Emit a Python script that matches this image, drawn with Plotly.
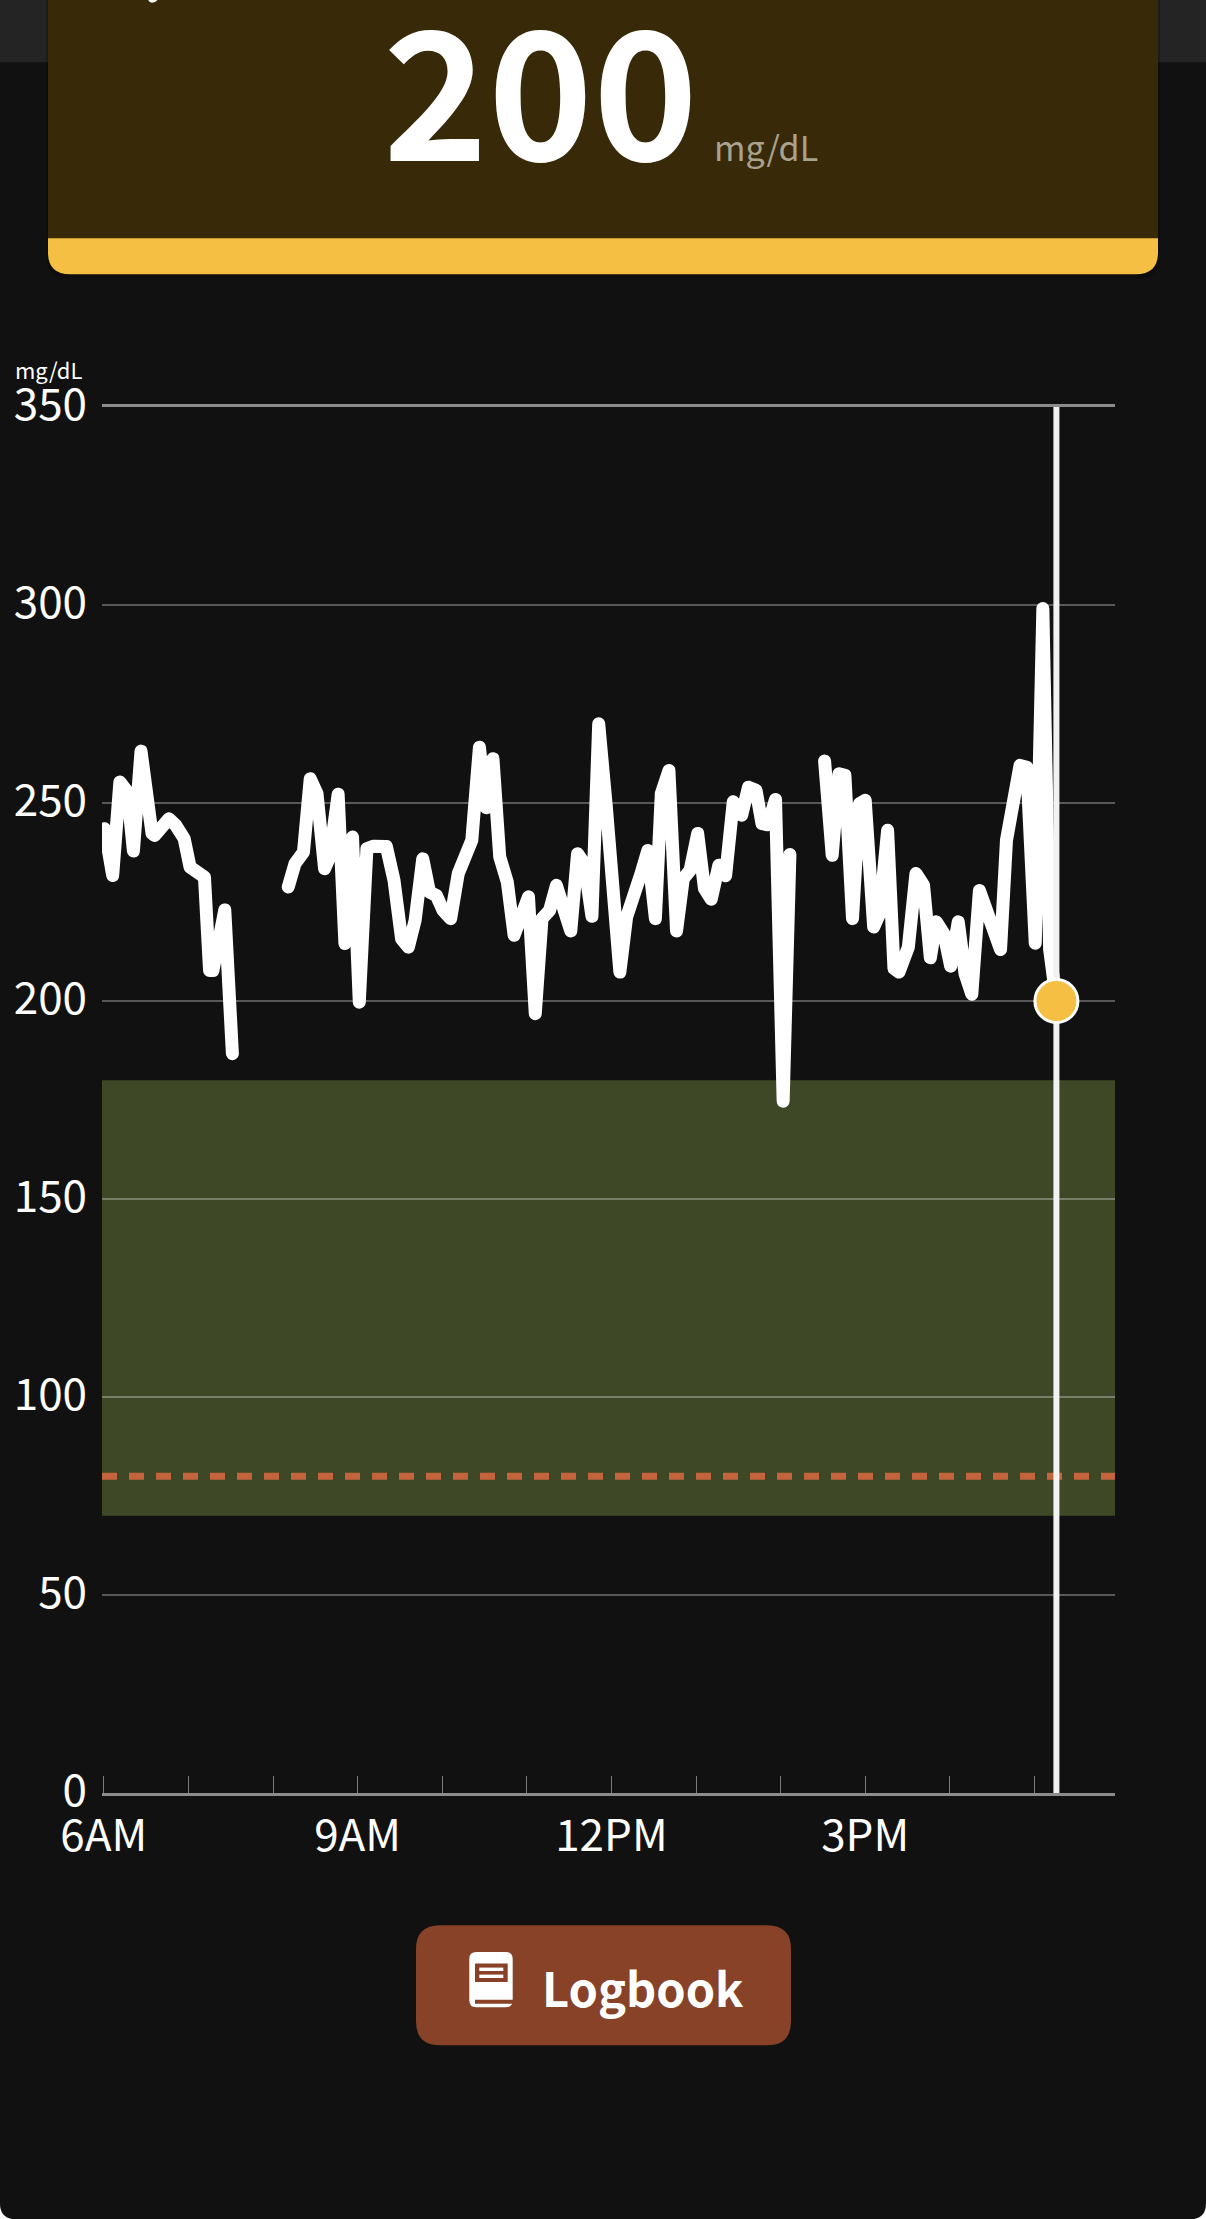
import plotly.graph_objects as go

W, H = 1206, 2219
PL, PR, PT, PB = 102, 1115, 406.7, 1792.7

hours = [6.01,6.105,6.19,6.28,6.35,6.44,6.57,6.60,6.77,6.85,6.95,7.02,7.19,7.25,7.29,7.43,7.52,None,
         8.18,8.26,8.36,8.44,8.52,8.61,8.67,8.77,8.85,8.94,9.02,9.11,9.19,9.34,9.43,9.52,9.60,9.68,9.77,9.85,9.93,10.01,10.10,10.19,10.35,10.44,10.52,
         10.60,10.68,10.77,10.85,11.02,11.10,11.18,11.27,11.35,11.43,11.52,11.60,11.68,11.77,11.85,11.94,12.02,12.10,12.18,12.27,12.35,12.43,12.52,12.59,12.68,12.77,12.85,12.93,13.02,13.10,13.18,13.27,13.35,13.44,13.54,13.62,13.71,13.78,13.85,13.94,14.03,14.11,None,
         14.52,14.61,14.69,14.76,14.85,14.93,15.0,15.10,15.17,15.265,15.34,15.40,15.51,15.60,15.69,15.77,15.84,15.93,16.01,16.10,16.18,16.26,16.35,16.44,16.60,16.67,16.83,16.91,17.01,17.10,17.18,17.26]
glucose = [243.5,231.7,255.3,252.8,237.9,263.1,242.3,241.8,246,244.4,241,233.8,231.3,207.7,207.7,223,186.7,None,
           228.8,234.7,237.6,256.1,252.4,233.4,236.4,252.2,214.5,241.4,199.7,238.5,239.1,239,230.5,215.7,213.6,220.4,235.9,227.5,226.7,222.9,220.8,232.2,240.6,264.1,248.8,
           261.2,236.4,230,216.6,226.3,196.8,220.8,222.9,229.2,223.7,217.7,237.2,234.7,221.4,270,249,227,207.3,221.2,226.3,232.2,238,220.8,252.4,258.2,217.7,230.9,233,242.3,228.4,225.7,234.3,231.6,250.3,246.9,254,253.2,244.8,244.5,250.9,174.7,237,None,
           260.6,236.8,257.4,257,220.8,249.8,250.7,218.7,222,243.1,208.2,207.3,213.6,232.2,229.2,210.9,220,217,208.8,220,206.9,201.7,227.9,222,213,240.6,259.5,259,214.6,299.1,213,200]
cursor_hour = 17.26
cursor_value = 200
target_low, target_high = 70, 180
low_limit = 80
y_ticks = [0,50,100,150,200,250,300,350]
x_tick_hours = list(range(6,18))
x_tick_text = ["6AM","","","9AM","","","12PM","","","3PM","",""]

FONT = "Noto Sans CJK JP"
X0 = 6 + (PL-103.8)/84.6
X1 = 6 + (PR-103.8)/84.6

def px(x): return (x-PL)/(PR-PL)
def py(y): return (PB-y)/(PB-PT)

def rect(x0,y0,x1,y1,color,layer="below"):
    return dict(type="rect",xref="paper",yref="paper",x0=px(x0),x1=px(x1),y0=py(y1),y1=py(y0),
                fillcolor=color,line=dict(width=0),layer=layer)
def poly(cmds,color,layer="below"):
    s=""
    for c in cmds:
        if isinstance(c,str): s+=c+" "
        else: s+=f"{px(c[0]):.5f},{py(c[1]):.5f} "
    return dict(type="path",xref="paper",yref="paper",path=s+"Z",fillcolor=color,line=dict(width=0),layer=layer)
def rrect(x0,y0,x1,y1,r,color,top=True,bottom=True):
    rt=r if top else 0; rb=r if bottom else 0
    return poly(["M",(x0+rt,y0),"L",(x1-rt,y0),"Q",(x1,y0),(x1,y0+rt),"L",(x1,y1-rb),"Q",(x1,y1),(x1-rb,y1),
                 "L",(x0+rb,y1),"Q",(x0,y1),(x0,y1-rb),"L",(x0,y0+rt),"Q",(x0,y0),(x0+rt,y0)],color)

BR="#884227"
shapes=[
    rrect(0,-30,W,H,16,"#111111"),
    rect(0,-5,W,62,"#242424"),
    rrect(46,-30,1160,279,24,"rgba(0,0,0,0.2)",top=False),
    rrect(48,-30,1158,274,22,"#f4bf42",top=False),
    rect(48,-10,1158,238,"#382909"),
    poly(["M",(148,-1),"L",(158,-1),"Q",(156,2),(152,2.5),"Q",(149,2),(148,-1)],"#ffffff"),
    dict(type="rect",xref="x",yref="y",x0=X0,x1=X1,y0=target_low,y1=target_high,
         fillcolor="#3e4826",line=dict(width=0),layer="below"),
    rrect(416,1925,791,2045,24,BR),
    rrect(469.3,1951.7,512.7,2007,7,"#ffffff"),
    rect(475,1999.5,513.5,2003.5,BR),
    rect(475,1963.3,507.7,1981.7,BR),
    rect(479.3,1967.3,503.3,1970.7,"#ffffff"),
    rect(479.3,1974.3,503.3,1977.7,"#ffffff"),
]

def ann(text,x,y,size,color="#ffffff",xanchor="left",yanchor="middle",weight=None):
    return dict(text=text,xref="paper",yref="paper",x=px(x),y=py(y),showarrow=False,xanchor=xanchor,yanchor=yanchor,
                font=dict(family=FONT,size=size,color=color,weight=weight),borderpad=0,borderwidth=0)

annotations=[
    ann("200",540,83,178,xanchor="center",weight=700),
    ann("mg/dL",714,146,34,color="#a9a28f"),
    ann("mg/dL",15,369,22),
    ann("Logbook",643,1986,47,xanchor="center",weight=600),
]

fig=go.Figure()
fig.add_trace(go.Scatter(x=[X0,X1],y=[low_limit,low_limit],mode="lines",hoverinfo="skip",
    line=dict(color="#c4643c",width=7,dash="15px,12px")))
fig.add_trace(go.Scatter(x=hours,y=glucose,mode="lines",hoverinfo="skip",connectgaps=False,
    line=dict(color="#ffffff",width=13)))
fig.add_trace(go.Scatter(x=[cursor_hour,cursor_hour],y=[0,350],mode="lines",hoverinfo="skip",
    line=dict(color="#f2f2f2",width=6)))
fig.add_trace(go.Scatter(x=[cursor_hour],y=[cursor_value],mode="markers",hoverinfo="skip",
    marker=dict(color="#f4bf42",size=43,line=dict(color="#ffffff",width=3))))

fig.update_layout(width=W,height=H,autosize=False,showlegend=False,
    paper_bgcolor="#ffffff",plot_bgcolor="rgba(0,0,0,0)",
    margin=dict(l=PL,r=W-PR,t=PT,b=H-PB,pad=0),
    font=dict(family=FONT,color="#ffffff",size=44),
    shapes=shapes,annotations=annotations,
    xaxis=dict(range=[X0,X1],tickmode="array",tickvals=x_tick_hours,ticktext=x_tick_text,
        showgrid=False,zeroline=False,ticks="inside",ticklen=17,tickwidth=1,tickcolor="#7a7a7a",
        showline=True,linecolor="#8c8c8c",linewidth=3,mirror=True,
        tickfont=dict(family=FONT,size=44,color="#ffffff"),ticklabelstandoff=2,fixedrange=True),
    yaxis=dict(range=[0,350],tickmode="array",tickvals=y_ticks,ticktext=[str(v) for v in y_ticks],
        showgrid=True,gridcolor="rgba(255,255,255,0.3)",gridwidth=2,zeroline=False,showline=False,ticks="",
        tickfont=dict(family=FONT,size=44,color="#ffffff"),ticklabelstandoff=14,ticklabelshift=-2,fixedrange=True),
)
post=("document.body.style.margin='0';document.body.style.overflow='hidden';"
      "var s=document.createElement('style');"
      "s.textContent='.scatterlayer .trace:nth-child(2) .js-line{stroke-linejoin:round!important;stroke-linecap:round!important}';"
      "document.head.appendChild(s);")
fig.write_html("out.html",post_script=post,config=dict(displayModeBar=False))
